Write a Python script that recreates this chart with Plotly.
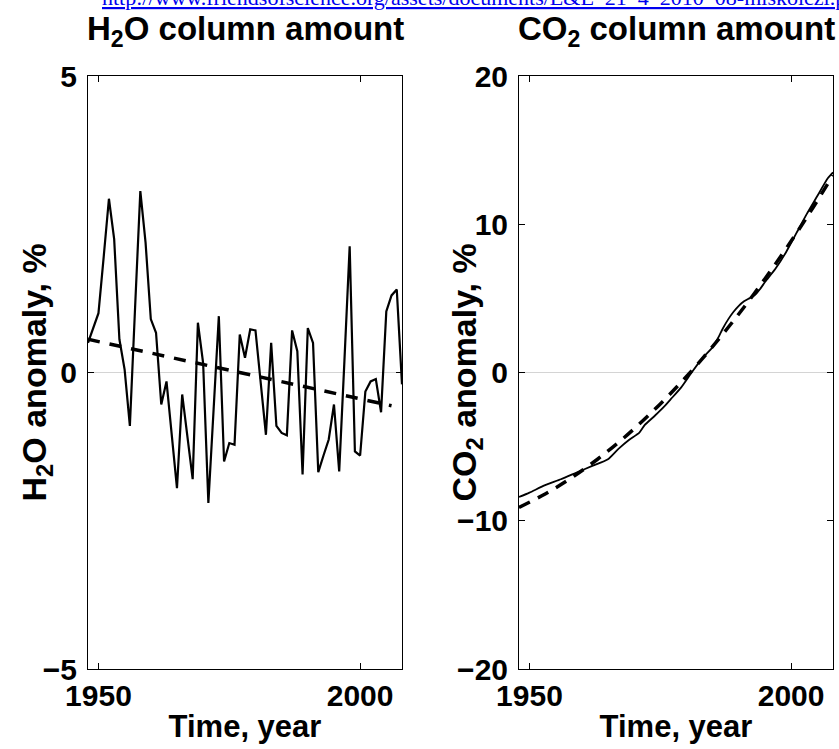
import plotly.graph_objects as go
from plotly.subplots import make_subplots

# ---- H2O column amount (left panel) ----
h2o_years = list(range(1948, 2009))
h2o_anomaly = [
    0.5, 0.75, 1.0, 1.95, 2.93, 2.25, 0.56, 0.05, -0.9, 1.1,
    3.06, 2.19, 0.9, 0.67, -0.54, -0.15, -1.05, -1.95, -0.37, -1.1,
    -1.8, 0.84, 0.16, -2.2, -0.6, 0.95, -1.5, -1.19, -1.22, 0.64,
    0.25, 0.73, 0.71, -0.2, -1.05, 0.5, -0.9, -1.02, -1.06, 0.71,
    0.36, -1.72, 0.75, 0.5, -1.68, -1.4, -1.13, -0.54, -1.67, 0.2,
    2.13, -1.33, -1.4, -0.32, -0.15, -0.11, -0.67, 1.03, 1.3, 1.4,
    -0.2,
]
h2o_trend_years = [1948, 2006]
h2o_trend = [0.56, -0.56]

# ---- CO2 column amount (right panel) ----
co2_years = [1948, 1950, 1953, 1956, 1959, 1962, 1965, 1967, 1969, 1971,
             1972, 1974, 1976, 1977, 1979, 1981, 1983, 1985, 1986, 1987,
             1988, 1989, 1990, 1991, 1992, 1993, 1994, 1995, 1997, 1999,
             2001, 2003, 2005, 2007, 2008]
co2_anomaly = [-8.4, -8.1, -7.6, -7.2, -6.75, -6.3, -5.85, -5.15, -4.55, -4.05,
               -3.55, -2.9, -2.2, -1.8, -1.0, 0.0, 0.95, 1.7, 2.3, 3.0,
               3.6, 4.1, 4.5, 4.8, 5.0, 5.2, 5.6, 6.1, 7.0, 8.1,
               9.4, 10.7, 11.9, 13.1, 13.5]
co2_fit_years = [1948, 1953, 1958, 1963, 1968, 1973, 1978, 1983, 1988, 1993,
                 1998, 2003, 2008]
co2_fit = [-9.1, -8.19, -7.11, -5.85, -4.42, -2.81, -1.03, 0.92, 3.05, 5.35,
           7.83, 10.47, 13.3]

x_ticks = [1950, 2000]
h2o_yticks = [-5, 0, 5]
co2_yticks = [-20, -10, 0, 10, 20]

FONT = "Liberation Sans, Arial, sans-serif"
W, H = 839, 749

fig = make_subplots(rows=1, cols=2)

fig.add_trace(go.Scatter(x=h2o_years, y=h2o_anomaly, mode="lines",
                         line=dict(color="black", width=2.2), showlegend=False), 1, 1)
fig.add_trace(go.Scatter(x=h2o_trend_years, y=h2o_trend, mode="lines",
                         line=dict(color="black", width=3.5, dash="12px,10px"),
                         showlegend=False), 1, 1)
fig.add_trace(go.Scatter(x=co2_years, y=co2_anomaly, mode="lines",
                         line=dict(color="black", width=1.8, shape="spline", smoothing=0.6),
                         showlegend=False), 1, 2)
fig.add_trace(go.Scatter(x=co2_fit_years, y=co2_fit, mode="lines",
                         line=dict(color="black", width=3.5, dash="12px,9px", shape="spline"),
                         showlegend=False), 1, 2)

dom_y = [1 - 669 / H, 1 - 76 / H]
dom_x1 = [88 / W, 402 / W]
dom_x2 = [519 / W, 833 / W]

tickfont = dict(family=FONT, size=30, color="black", weight="bold")
common_x = dict(range=[1948, 2008], tickvals=x_ticks, ticks="inside", ticklen=6,
                tickcolor="black", showline=True, linecolor="black", linewidth=1,
                mirror="ticks", showgrid=False, zeroline=False, tickfont=tickfont,
                automargin=False,
                title=dict(text="Time, year", standoff=4,
                           font=dict(family=FONT, size=31, color="black", weight="bold")))
common_y = dict(ticks="inside", ticklen=6, tickcolor="black", showline=True,
                linecolor="black", linewidth=1, mirror="ticks", showgrid=False,
                zeroline=True, zerolinecolor="#d4d4d4", zerolinewidth=1,
                tickfont=tickfont, ticklabelstandoff=4, automargin=False)

fig.update_xaxes(domain=dom_x1, row=1, col=1, **common_x)
fig.update_xaxes(domain=dom_x2, row=1, col=2, **common_x)
fig.update_yaxes(domain=dom_y, range=[-5, 5], tickvals=h2o_yticks, row=1, col=1, **common_y)
fig.update_yaxes(domain=dom_y, range=[-20, 20], tickvals=co2_yticks, row=1, col=2, **common_y)

title_font = dict(family=FONT, size=33, color="black", weight="bold")
ytitle_font = dict(family=FONT, size=34, color="black", weight="bold")
yc = (dom_y[0] + dom_y[1]) / 2
annotations = [
    dict(text="H<sub>2</sub>O column amount", x=(dom_x1[0] + dom_x1[1]) / 2, y=1 - 31 / H,
         xref="paper", yref="paper", xanchor="center", yanchor="middle",
         showarrow=False, font=title_font),
    dict(text="CO<sub>2</sub> column amount", x=(dom_x2[0] + dom_x2[1]) / 2, y=1 - 31 / H,
         xref="paper", yref="paper", xanchor="center", yanchor="middle",
         showarrow=False, font=title_font),
    dict(text="H<sub>2</sub>O anomaly, %", x=36 / W, y=yc, textangle=-90,
         xref="paper", yref="paper", xanchor="center", yanchor="middle",
         showarrow=False, font=ytitle_font),
    dict(text="CO<sub>2</sub> anomaly, %", x=466 / W, y=yc, textangle=-90,
         xref="paper", yref="paper", xanchor="center", yanchor="middle",
         showarrow=False, font=ytitle_font),
    dict(text="<u>http://www.friendsofscience.org/assets/documents/E&amp;E_21_4_2010_08-miskolczi.pdf</u>",
         x=100 / W, y=1 + 2 / H, xref="paper", yref="paper", xanchor="left", yanchor="middle",
         showarrow=False, font=dict(family="Liberation Serif, Times New Roman, serif",
                                    size=22, color="#0000ee")),
]

fig.update_layout(width=W, height=H, margin=dict(l=0, r=0, t=0, b=0),
                  paper_bgcolor="white", plot_bgcolor="white",
                  annotations=annotations, showlegend=False)

fig.write_html("out.html", config={"displayModeBar": False},
               post_script="document.body.style.margin='0';document.body.style.overflow='hidden';")
